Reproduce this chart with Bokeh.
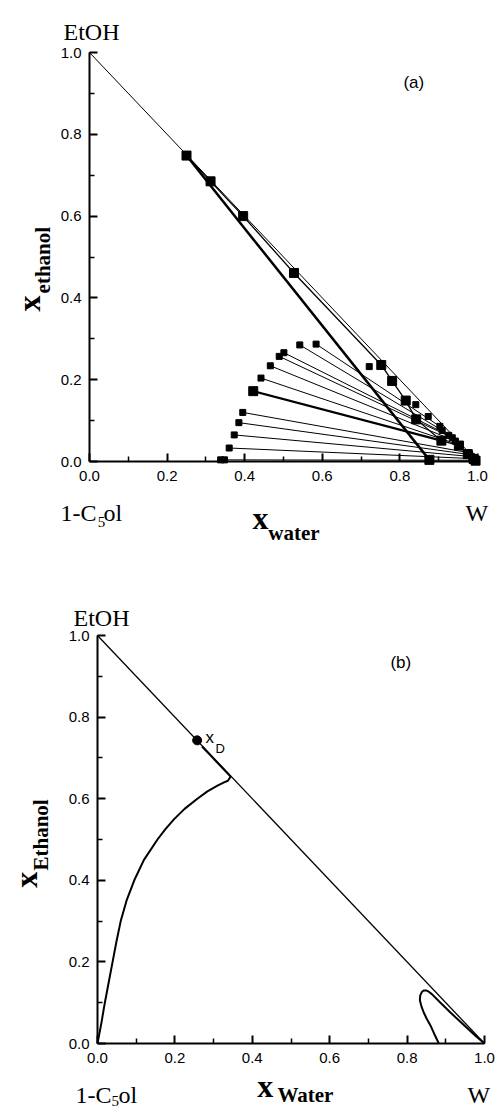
from bokeh.plotting import figure
from bokeh.models import Range1d, Label, FixedTicker, PrintfTickFormatter
from bokeh.layouts import column
from bokeh.embed import file_html
from bokeh.resources import INLINE

# ---------------- data ----------------
tick_vals = [0.0, 0.2, 0.4, 0.6, 0.8, 1.0]
minor_vals = [0.1, 0.3, 0.5, 0.7, 0.9]

# triangle side (ethanol + water = 1)
edge_x = [0.0, 1.0]
edge_y = [1.0, 0.0]

# panel (a): thick boundary line
thick_x = [0.250, 0.876]
thick_y = [0.748, 0.004]

# panel (a): tie lines, small symbols (organic end -> aqueous end)
org_x = [0.584, 0.542, 0.501, 0.489, 0.466, 0.442, 0.395, 0.385, 0.373, 0.360, 0.348]
org_y = [0.287, 0.285, 0.266, 0.257, 0.234, 0.204, 0.120, 0.095, 0.065, 0.033, 0.004]
aq_x = [0.903, 0.909, 0.926, 0.935, 0.943, 0.955, 0.975, 0.980, 0.985, 0.990, 0.995]
aq_y = [0.086, 0.076, 0.064, 0.058, 0.050, 0.040, 0.022, 0.017, 0.012, 0.007, 0.003]

# panel (a): extra small symbols
extra_x = [0.721, 0.841, 0.873, 0.338]
extra_y = [0.232, 0.139, 0.110, 0.004]

# panel (a): large symbols, water-rich branch
big_x = [0.250, 0.312, 0.396, 0.527, 0.752, 0.780, 0.815, 0.842, 0.907, 0.952, 0.975, 0.990]
big_y = [0.748, 0.685, 0.600, 0.461, 0.236, 0.197, 0.149, 0.103, 0.051, 0.039, 0.018, 0.006]

# panel (a): large-symbol tie line
big_tie_x = [0.422, 0.907]
big_tie_y = [0.172, 0.051]
big_end_x = [0.422, 0.876, 0.995]
big_end_y = [0.172, 0.004, 0.002]

# panel (b): binodal branch from 1-pentanol corner
bin1_x = [0.000, 0.004, 0.010, 0.019, 0.029, 0.039, 0.049, 0.060, 0.075, 0.095, 0.120,
          0.155, 0.175, 0.198, 0.225, 0.258, 0.284, 0.310, 0.327, 0.337, 0.344, 0.320, 0.295, 0.270]
bin1_y = [0.000, 0.020, 0.050, 0.100, 0.150, 0.200, 0.250, 0.300, 0.350, 0.400, 0.450,
          0.500, 0.525, 0.550, 0.575, 0.600, 0.618, 0.632, 0.640, 0.644, 0.654, 0.678, 0.703, 0.728]

# panel (b): small closed region near water corner
bin2_x = [0.882, 0.870, 0.860, 0.850, 0.843, 0.837, 0.833, 0.834, 0.838, 0.843, 0.849, 0.856,
          0.864, 0.885, 0.910, 0.932, 0.955, 0.978, 1.000]
bin2_y = [0.000, 0.024, 0.045, 0.062, 0.076, 0.091, 0.106, 0.118, 0.126, 0.130, 0.130, 0.127,
          0.121, 0.101, 0.078, 0.058, 0.038, 0.018, 0.000]

# panel (b): distillate point
xd_x = [0.2575]
xd_y = [0.743]

SERIF = "Liberation Serif"
SANS = "Liberation Sans"
FIG_W = 497


def make_fig(height, x0_px, x1_px, y1_px, y0_px):
    """Frame fills the figure; axes are fixed at data 0 so that the
    corner labels outside the [0, 1] square still lie in the frame."""
    sx = x1_px - x0_px
    sy = y0_px - y1_px
    xr = Range1d(-x0_px / sx, (FIG_W - x0_px) / sx)
    yr = Range1d(-(height - y0_px) / sy, 1 + y1_px / sy)
    p = figure(width=FIG_W, height=height, x_range=xr, y_range=yr,
               output_backend="svg", toolbar_location=None,
               min_border_left=0, min_border_right=0,
               min_border_top=0, min_border_bottom=0)
    p.xgrid.visible = False
    p.ygrid.visible = False
    p.outline_line_color = None
    for ax in (p.xaxis[0], p.yaxis[0]):
        ax.fixed_location = 0
        ax.bounds = (0, 1)
        ax.ticker = FixedTicker(ticks=tick_vals, minor_ticks=minor_vals)
        ax.formatter = PrintfTickFormatter(format="%.1f")
        ax.axis_line_width = 2
        ax.major_tick_in = 8
        ax.major_tick_out = 0
        ax.minor_tick_in = 5
        ax.minor_tick_out = 0
        ax.major_tick_line_width = 2
        ax.minor_tick_line_width = 1.5
        ax.major_label_text_font = SANS
        ax.major_label_text_font_size = "15px"
        ax.major_label_text_color = "black"
    p.xaxis.major_label_standoff = 9
    p.yaxis.major_label_standoff = 8
    return p


def lab(p, x, y, text, font, size, bold=False, angle=0, baseline="alphabetic"):
    p.add_layout(Label(x=x, y=y, text=text, text_font=font, text_font_size=size,
                       text_font_style="bold" if bold else "normal",
                       text_baseline=baseline, text_align="left",
                       angle=angle, angle_units="deg", text_color="black"))


def corner_labels(p, etoh, c5, five, ol, w, xx, sub, subtext, yx, ysub, ysubtext):
    lab(p, etoh[0], etoh[1], "EtOH", SERIF, "24px")
    lab(p, c5[0], c5[1], "1-C", SERIF, "24px")
    lab(p, five[0], five[1], "5", SERIF, "15px")
    lab(p, ol[0], ol[1], "ol", SERIF, "24px")
    lab(p, w[0], w[1], "W", SERIF, "24px")
    lab(p, xx[0], xx[1], "x", SERIF, "32px", bold=True)
    lab(p, sub[0], sub[1], subtext, SERIF, "21px", bold=True)
    lab(p, yx[0], yx[1], "x", SERIF, "32px", bold=True, angle=90)
    lab(p, ysub[0], ysub[1], ysubtext, SERIF, "21px", bold=True, angle=90)


# ---------------- panel (a) ----------------
pa = make_fig(555, 89, 477, 52, 461)
pa.line(edge_x, edge_y, line_color="black", line_width=1)
pa.line(thick_x, thick_y, line_color="black", line_width=2.5)
pa.line(big_x, big_y, line_color="black", line_width=1.3)
pa.segment(org_x, org_y, aq_x, aq_y, line_color="black", line_width=1)
pa.line(big_tie_x, big_tie_y, line_color="black", line_width=2.2)
pa.scatter(org_x, org_y, marker="square", size=6, color="black")
pa.scatter(aq_x, aq_y, marker="square", size=6, color="black")
pa.scatter(extra_x, extra_y, marker="square", size=6, color="black")
pa.scatter(big_x, big_y, marker="square", size=9, color="black")
pa.scatter(big_end_x, big_end_y, marker="square", size=9, color="black")

corner_labels(pa, (-0.067, 1.049), (-0.075, -0.125), (0.021, -0.147), (0.036, -0.125),
              (0.969, -0.125), (0.420, -0.137), (0.461, -0.176), "water",
              (-0.157, 0.367), (-0.119, 0.411), "ethanol")
lab(pa, 0.809, 0.951, "(a)", SANS, "17px", baseline="top")

# ---------------- panel (b) ----------------
pb = make_fig(555, 97, 484, 80, 488)
pb.line(edge_x, edge_y, line_color="black", line_width=1.3)
pb.line(bin1_x, bin1_y, line_color="black", line_width=2)
pb.line(bin2_x, bin2_y, line_color="black", line_width=2)
pb.scatter(xd_x, xd_y, marker="circle", size=9, color="black")

corner_labels(pb, (-0.062, 1.042), (-0.057, -0.125), (0.036, -0.142), (0.054, -0.125),
              (0.956, -0.125), (0.413, -0.105), (0.465, -0.127), "Water",
              (-0.186, 0.382), (-0.147, 0.424), "Ethanol")
lab(pb, 0.757, 0.958, "(b)", SANS, "17px", baseline="top")
lab(pb, 0.279, 0.750, "x", SANS, "17px")
lab(pb, 0.305, 0.723, "D", SANS, "13px")

layout = column(pa, pb, spacing=0)
open("out.html", "w").write(file_html(layout, INLINE))
